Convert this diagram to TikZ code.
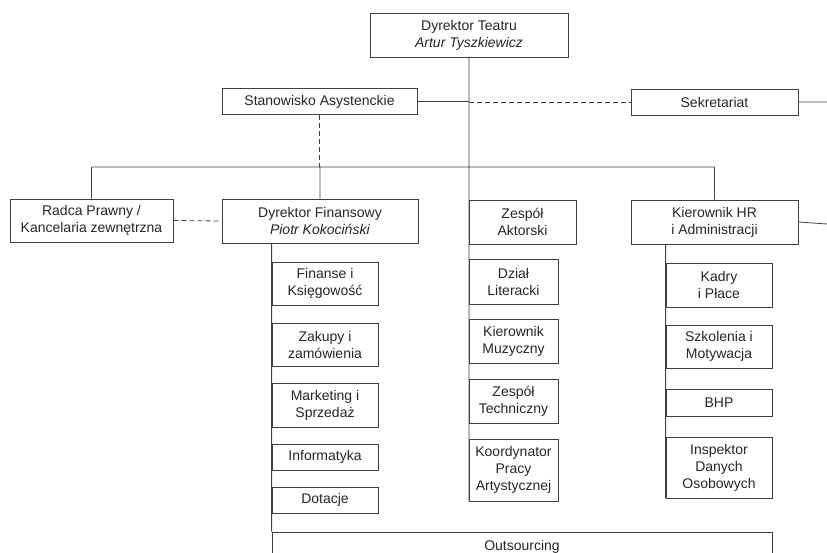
\documentclass[tikz,border=0pt]{standalone}
\usepackage{fontspec}
\setmainfont{Liberation Sans}
\usetikzlibrary{calc}

\tikzset{
    unit/.style = {draw=black!75, line width=0.8pt, align=center, inner sep=0pt,
                   text=black!85, font=\fontsize{14}{17}\selectfont},
    link/.style = {draw=black!75, line width=0.8pt},
    dotlink/.style = {link, dash pattern=on 5pt off 3pt}
}

\begin{document}
\begin{tikzpicture}[x=1pt, y=-1pt]
    \clip (0,0) rectangle (827,553);
    \fill[white] (0,0) rectangle (827,553);

    % top level
    \node[unit, minimum width=198, minimum height=44] (teatr) at (469,35) {Dyrektor Teatru\\\textit{Artur Tyszkiewicz}};
    \node[unit, minimum width=195, minimum height=26] (asyst) at (319.5,101.5) {Stanowisko Asystenckie};
    \node[unit, minimum width=167, minimum height=26] (sekr) at (714.5,102) {Sekretariat};

    % second level
    \node[unit, minimum width=163, minimum height=43] (radca) at (91.5,220.5) {Radca Prawny /\\Kancelaria zewnętrzna};
    \node[unit, minimum width=196, minimum height=44] (finans) at (320,221) {Dyrektor Finansowy\\\textit{Piotr Kokociński}};
    \node[unit, minimum width=107, minimum height=44] (aktor) at (522.5,222) {Zespół\\Aktorski};
    \node[unit, minimum width=167, minimum height=44] (hr) at (714.5,222) {Kierownik HR\\i Administracji};

    % finance column
    \node[unit, minimum width=106, minimum height=43] (ksieg) at (325,283.5) {Finanse i\\Księgowość};
    \node[unit, minimum width=106, minimum height=43] (zakupy) at (325,344.5) {Zakupy i\\zamówienia};
    \node[unit, minimum width=106, minimum height=44] (market) at (325,405) {Marketing i\\Sprzedaż};
    \node[unit, minimum width=106, minimum height=26] (inform) at (325,457) {Informatyka};
    \node[unit, minimum width=106, minimum height=26] (dotacje) at (325,500) {Dotacje};
    \node[unit, minimum width=500, minimum height=30] (outs) at (522,547) {Outsourcing};

    % artistic column
    \node[unit, minimum width=89, minimum height=45] (literat) at (513.5,281.5) {Dział\\Literacki};
    \node[unit, minimum width=89, minimum height=44] (muzyka) at (513.5,341) {Kierownik\\Muzyczny};
    \node[unit, minimum width=89, minimum height=44] (techn) at (513.5,401) {Zespół\\Techniczny};
    \node[unit, minimum width=89, minimum height=62] (koord) at (513.5,470) {Koordynator\\Pracy\\Artystycznej};

    % hr column
    \node[unit, minimum width=106, minimum height=44] (kadry) at (719,285) {Kadry\\i Płace};
    \node[unit, minimum width=106, minimum height=43] (szkol) at (719,346.5) {Szkolenia i\\Motywacja};
    \node[unit, minimum width=106, minimum height=27] (bhp) at (719,402.5) {BHP};
    \node[unit, minimum width=106, minimum height=61] (odo) at (719,467.5) {Inspektor\\Danych\\Osobowych};

    \coordinate (bus) at (0,167);
    \coordinate (rimA) at (827,102);
    \coordinate (rimB) at (827,224);

    \draw[link]
    (teatr.south) -- (teatr.south |- koord.south)
    (asyst.east) -- (teatr.south |- asyst.east)
    (sekr.east) -- (rimA)
    (radca.north |- bus) -- (hr.north |- bus)
    (radca.north) -- (radca.north |- bus)
    (finans.north) -- (finans.north |- bus)
    (hr.north) -- (hr.north |- bus)
    (hr.east) -- (rimB)
    (outs.north west) -- (outs.north west |- finans.south)
    (odo.south west) -- (odo.south west |- hr.south);

    \draw[dotlink] (teatr.south |- sekr.west) -- (sekr.west);
    \draw[dotlink] (asyst.south) -- (asyst.south |- bus);
    \draw[dotlink] (radca.east) -- (finans.west);
\end{tikzpicture}
\end{document}
